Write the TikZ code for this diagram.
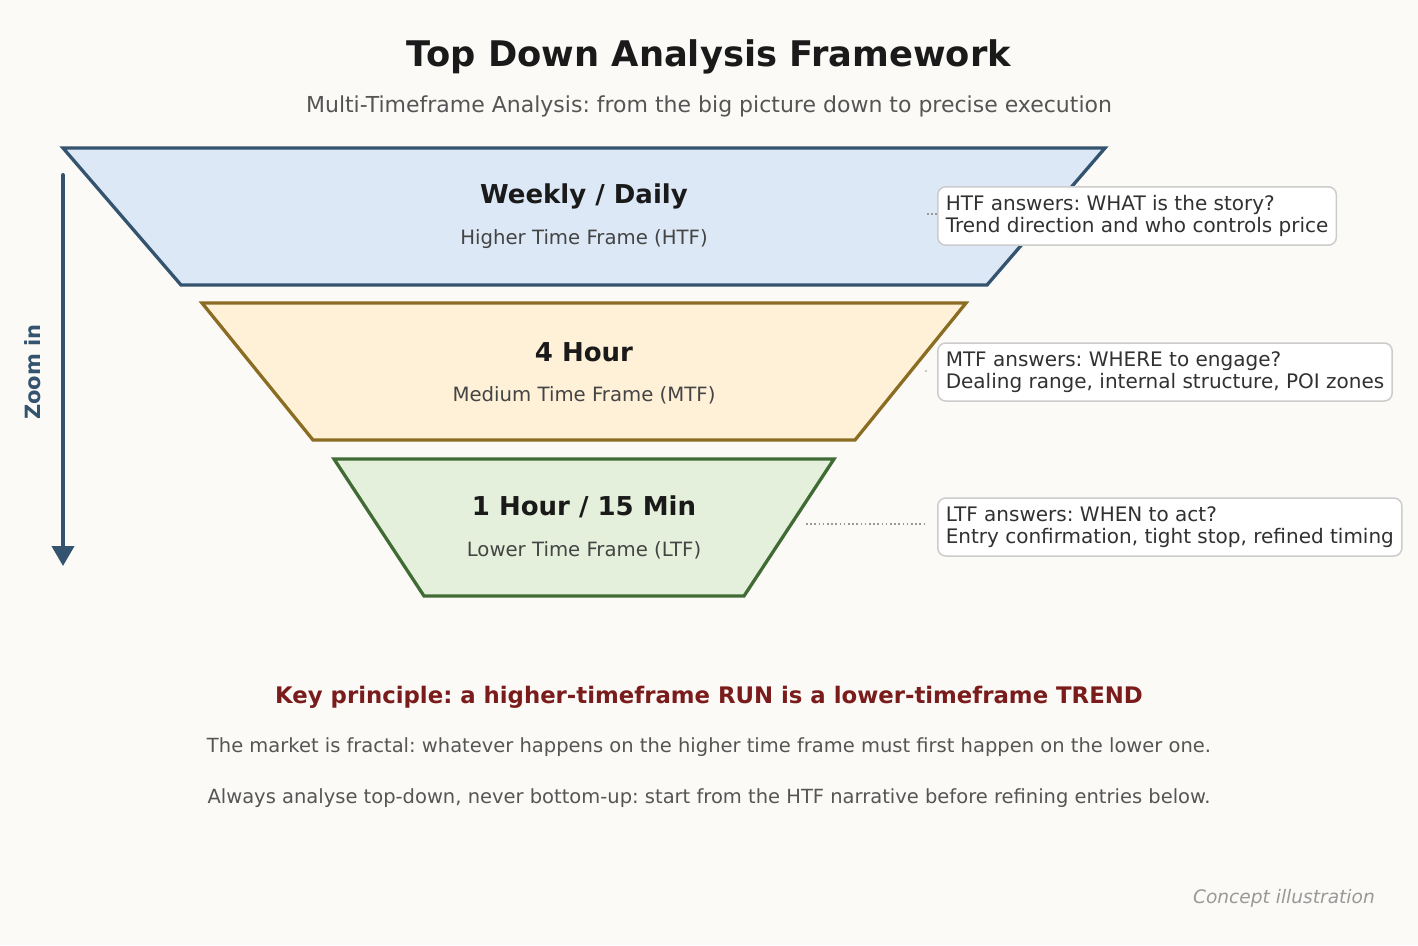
\documentclass[tikz,border=0pt]{standalone}
\usepackage{fontspec}
\setmainfont{DejaVu Sans}
\usetikzlibrary{arrows.meta}
\frenchspacing
\definecolor{bg}{HTML}{FBFAF7}
\definecolor{navy}{HTML}{34536E}
\definecolor{htffill}{HTML}{DCE8F6}
\definecolor{mtfline}{HTML}{8A6D22}
\definecolor{mtffill}{HTML}{FFF1D8}
\definecolor{ltfline}{HTML}{416B35}
\definecolor{ltffill}{HTML}{E4F0DB}
\definecolor{darktext}{HTML}{1A1A1A}
\definecolor{subtext}{HTML}{444444}
\definecolor{bodytext}{HTML}{555555}
\definecolor{keyred}{HTML}{7A1C1C}
\definecolor{boxline}{HTML}{CCCCCC}
\definecolor{dotgray}{HTML}{999999}
\tikzset{
  tier/.style={line width=3.3pt, line join=miter},
  tiertitle/.style={font=\fontsize{26}{30}\selectfont\bfseries, text=darktext, inner sep=0pt},
  tiersub/.style={font=\fontsize{19.7}{23}\selectfont, text=subtext, inner sep=0pt},
  infobox/.style={draw=boxline, line width=1.5pt, fill=white, rounded corners=8pt,
    align=left, font=\fontsize{20}{22}\selectfont, text=darktext!90, inner xsep=8pt, inner ysep=8.5pt, anchor=west},
  dotline/.style={dotgray, line width=1.6pt, dash pattern=on 1.6pt off 2.6pt},
  bodyline/.style={font=\fontsize{19.5}{22}\selectfont, text=bodytext, inner sep=0pt}
}
\begin{document}
\begin{tikzpicture}[x=1pt,y=-1pt]
\useasboundingbox[fill=bg] (0,0) rectangle (1418,945);

\node[font=\fontsize{35.3}{40}\selectfont\bfseries, text=darktext, inner sep=0pt] (title) at (709,57) {Top Down Analysis Framework};
\node[font=\fontsize{22}{26}\selectfont, text=bodytext, inner sep=0pt] (subtitle) at (709,106) {Multi-Timeframe Analysis: from the big picture down to precise execution};

% tiers
\draw[tier, draw=navy, fill=htffill] (63,148) -- (1105,148) -- (987,285) -- (181,285) -- cycle;
\draw[tier, draw=mtfline, fill=mtffill] (202,303) -- (966,303) -- (855,440) -- (313,440) -- cycle;
\draw[tier, draw=ltfline, fill=ltffill] (334,459) -- (834,459) -- (744,596) -- (424,596) -- cycle;

\node[tiertitle] (t1) at (584,196) {Weekly / Daily};
\node[tiersub] (s1) at (584,239) {Higher Time Frame (HTF)};
\node[tiertitle] (t2) at (584,352) {4 Hour};
\node[tiersub] (s2) at (584,395) {Medium Time Frame (MTF)};
\node[tiertitle] (t3) at (584,507) {1 Hour / 15 Min};
\node[tiersub] (s3) at (584,550) {Lower Time Frame (LTF)};

% connector anchors
\coordinate (e1) at (1063,214);
\coordinate (e2) at (926,371);
\coordinate (e3) at (806,524);
\coordinate (f1) at (926,214);
\coordinate (f3) at (926,524);
\draw[dotline] (e1) -- (f1);
\draw[dotline] (e3) -- (f3);
\fill[dotgray] (e2) circle (0.8pt);

% info boxes
\node[infobox] (b1) at (937,216) {HTF answers: WHAT is the story?\\Trend direction and who controls price};
\node[infobox] (b2) at (937,372) {MTF answers: WHERE to engage?\\Dealing range, internal structure, POI zones};
\node[infobox] (b3) at (937,527) {LTF answers: WHEN to act?\\Entry confirmation, tight stop, refined timing};

% zoom arrow
\coordinate (za) at (63,175);
\coordinate (zb) at (63,566);
\draw[navy, line width=4pt, line cap=round, -{Triangle[length=20pt,width=22pt]}] (za) -- (zb);
\node[rotate=90, font=\fontsize{21}{24}\selectfont\bfseries, text=navy, inner sep=0pt] (zl) at (33,372) {Zoom in};

% bottom text
\node[font=\fontsize{22.8}{26}\selectfont\bfseries, text=keyred, inner sep=0pt] (key) at (709,697) {Key principle: a higher-timeframe RUN is a lower-timeframe TREND};
\node[bodyline] (l1) at (709,747) {The market is fractal: whatever happens on the higher time frame must first happen on the lower one.};
\node[bodyline] (l2) at (709,798) {Always analyse top-down, never bottom-up: start from the HTF narrative before refining entries below.};
\node[font=\fontsize{18.6}{22}\selectfont\itshape, text=dotgray, inner sep=0pt, anchor=east] (note) at (1375,898) {Concept illustration};
\end{tikzpicture}
\end{document}
